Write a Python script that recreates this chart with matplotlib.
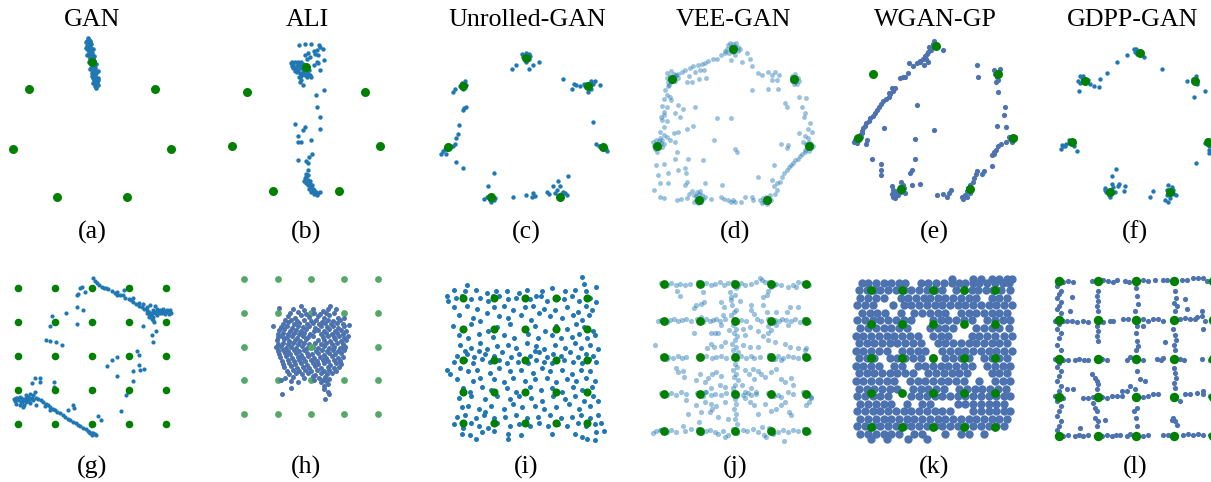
import matplotlib
matplotlib.use("Agg")
import matplotlib.pyplot as plt
import numpy as np

# ---------------- data ----------------
titles = ["GAN", "ALI", "Unrolled-GAN", "VEE-GAN", "WGAN-GP", "GDPP-GAN"]
labels_top = ["(a)", "(b)", "(c)", "(d)", "(e)", "(f)"]
labels_bot = ["(g)", "(h)", "(i)", "(j)", "(k)", "(l)"]

# ring of 7 distinct modes (unit radius)
ring_x = [0.0, -0.782, -0.975, -0.434, 0.434, 0.975, 0.782]
ring_y = [1.0, 0.623, -0.223, -0.901, -0.901, -0.223, 0.623]
# 5x5 grid of modes
grid_vals = [-2, -1, 0, 1, 2]

a_pts = [(-0.05,1.34),(-0.04,1.31),(-0.06,1.29),(-0.03,1.28),(-0.05,1.25),(-0.02,1.24),(-0.06,1.22),(-0.03,1.20),(-0.01,1.19),(-0.05,1.17),(-0.02,1.15),(0.0,1.13),(-0.04,1.12),(-0.01,1.10),(-0.03,1.07),(0.01,1.06),(-0.02,1.04),(0.02,1.02),(-0.01,1.00),(0.03,0.98),(0.0,0.96),(0.02,0.94),(-0.01,0.92),(0.04,0.91),(0.01,0.89),(0.03,0.87),(0.0,0.85),(0.05,0.84),(0.02,0.82),(0.04,0.80),(0.01,0.78),(0.05,0.76),(0.03,0.74),(0.06,0.72),(0.02,0.71),(0.05,0.69),(0.04,0.66),(0.05,0.63),(-0.03,1.3),(-0.01,1.16),(0.0,1.04),(0.02,0.88),(0.03,0.79),(-0.04,1.27),(-0.02,1.09),
(-0.08,1.28),(-0.07,1.2),(-0.06,1.1),(-0.04,1.0),(-0.02,0.9),(0.0,0.8),(0.01,0.7),(0.07,0.78),(0.07,0.88),(0.05,0.97),(0.03,1.08),(0.01,1.18),(-0.01,1.25),(0.07,0.68),(0.08,0.74)]

b_pts = [(-0.09,1.34),(-0.01,1.35),(0.07,1.36),(0.17,1.34),(0.19,1.31),(0.22,1.27),(0.15,1.26),(0.10,1.24),(0.03,1.21),(-0.01,1.18),(0.12,1.20),(0.16,1.18),(0.05,1.16),(0.01,1.12),(0.24,1.11),(0.14,1.08),(0.10,1.03),(0.16,1.06),(0.19,0.95),(0.07,0.84),(-0.08,0.77),(-0.04,0.72),
(-0.19,1.08),(-0.14,1.07),(-0.10,1.08),(-0.17,1.03),(-0.12,1.02),(-0.08,1.03),(-0.04,1.05),(-0.14,0.98),(-0.10,0.96),(-0.06,0.98),(-0.01,0.99),(-0.17,0.99),(-0.12,0.93),(-0.08,0.91),(-0.04,0.93),(0.01,0.94),(0.03,0.89),(-0.01,0.88),(-0.06,0.86),(0.05,0.88),(-0.09,0.85),(0.01,0.84),(-0.20,1.06),(-0.06,1.08),(-0.03,0.95),(0.04,0.95),(-0.15,0.94),(-0.07,0.80),(-0.18,1.02),(-0.11,1.05),(-0.13,0.95),(-0.09,1.01),(-0.04,0.89),(0.0,0.90),
(0.24,0.65),(0.13,0.57),(0.14,0.38),(0.18,0.23),(0.18,0.04),(-0.15,0.12),(-0.01,0.08),(-0.04,0.03),(-0.10,-0.06),(0.07,-0.12),(-0.10,-0.15),(-0.07,-0.16),(0.08,-0.34),(0.04,-0.39),(0.0,-0.44),(-0.10,-0.43),(0.03,-0.48),
(0.02,-0.58),(0.0,-0.64),(0.03,-0.66),(-0.01,-0.71),(0.02,-0.74),(0.05,-0.76),(0.0,-0.78),(0.03,-0.82),(0.07,-0.84),(0.04,-0.87),(0.10,-0.89),(0.07,-0.92),(0.12,-0.93),(0.14,-0.97),(0.16,-0.94),(0.11,-0.96),(0.09,-0.88),(0.0,-0.69),(-0.03,-0.76),(0.05,-0.80),(0.13,-0.92),(0.18,-0.93),(0.08,-0.82)]

c_pts = [(-0.04,1.06),(0.01,1.07),(0.05,1.06),(0.06,1.03),(-0.03,1.02),(0.04,0.98),(0.01,0.95),(-0.17,0.85),(-0.12,0.91),(0.05,0.85),(0.09,0.91),(0.17,0.94),
(-0.80,0.66),(-0.76,0.68),(-0.75,0.63),(-0.79,0.58),(-0.82,0.62),(-0.89,0.58),(-0.91,0.54),(-0.77,0.31),(-0.75,0.33),(-0.79,0.29),
(0.47,0.71),(0.59,0.58),(0.61,0.64),(0.64,0.63),(0.68,0.62),(0.73,0.64),(0.77,0.65),(0.83,0.68),(0.85,0.65),(0.88,0.69),(0.94,0.63),(0.82,0.58),(0.79,0.54),(0.75,0.62),
(0.85,0.13),(0.89,-0.18),(0.92,-0.20),(0.94,-0.21),(0.98,-0.24),(1.01,-0.25),(1.03,-0.27),(0.96,-0.21),
(-0.84,0.08),(-0.85,-0.04),(-0.87,-0.09),(-0.89,-0.18),(-0.91,-0.21),(-0.95,-0.21),(-0.99,-0.24),(-1.01,-0.25),(-1.04,-0.28),(-1.06,-0.31),(-1.0,-0.32),(-0.87,-0.42),(-0.79,-0.51),(-0.97,-0.19),
(-0.40,-0.57),(-0.47,-0.75),(-0.52,-0.93),(-0.49,-0.91),(-0.45,-0.95),(-0.43,-0.97),(-0.40,-0.94),(-0.45,-0.89),(-0.38,-0.92),
(-0.16,-0.91),(0.01,-0.88),(0.09,-0.85),(0.12,-0.89),(0.08,-0.91),(0.27,-0.83),(0.29,-0.86),(0.35,-0.76),(0.41,-0.69),(0.43,-0.76),(0.39,-0.81),(0.53,-0.61),(0.37,-0.85),(0.45,-0.86),(0.50,-0.85),(0.52,-0.88),(0.43,-0.92),(0.47,-0.83)]

d_pts = [(-0.07,1.05),(-0.04,1.08),(0.0,1.06),(0.04,1.07),(0.07,1.03),(-0.08,1.0),(-0.03,0.99),(0.02,1.01),(0.06,0.98),(-0.05,0.95),(0.0,0.96),(0.09,1.0),(-0.1,0.98),(0.03,1.04),(-0.02,1.03),
(-0.10,0.95),(-0.15,0.92),(-0.21,0.88),(-0.26,0.87),(-0.32,0.85),(-0.36,0.83),(-0.40,0.81),(-0.45,0.80),(-0.51,0.78),(-0.55,0.76),(-0.61,0.73),(-0.66,0.71),(-0.70,0.69),(-0.74,0.66),
(-0.49,0.71),(-0.42,0.73),(-0.37,0.74),(-0.34,0.64),(-0.43,0.62),(-0.53,0.59),(-0.57,0.66),(-0.59,0.59),(-0.03,0.86),(0.03,0.92),(0.11,0.84),(0.18,0.95),(0.22,0.88),(0.24,0.78),(0.32,0.70),(0.37,0.67),(0.45,0.71),(0.50,0.67),(0.54,0.71),(0.59,0.67),(0.56,0.61),(0.50,0.61),(0.45,0.50),(0.58,0.50),(0.24,0.49),
(-0.84,0.7),(-0.8,0.72),(-0.76,0.69),(-0.85,0.64),(-0.81,0.66),(-0.77,0.64),(-0.73,0.67),(-0.83,0.59),(-0.79,0.58),(-0.75,0.6),(-0.82,0.55),(-0.71,0.63),
(-0.83,0.53),(-0.87,0.48),(-0.85,0.42),(-0.81,0.40),(-0.88,0.37),(-0.79,0.36),(-0.91,0.28),(-0.84,0.27),(-0.89,0.21),(-0.75,0.20),(-0.88,0.17),(-0.92,0.14),(-0.91,0.11),(-0.84,0.09),(-0.88,0.02),(-0.94,-0.04),(-0.89,-0.08),(-0.85,-0.11),(-0.81,-0.14),(-0.76,-0.06),(-0.91,-0.14),(-0.70,0.30),(-0.64,0.25),(-0.68,0.15),(-0.59,0.0),(-0.51,0.03),(-0.49,0.27),(-0.74,-0.17),(-0.70,-0.04),
(-1.02,-0.17),(-0.99,-0.15),(-0.95,-0.16),(-1.01,-0.22),(-0.96,-0.2),(-0.92,-0.18),(-1.0,-0.26),(-0.95,-0.25),(-0.91,-0.23),(-0.97,-0.29),(-0.88,-0.2),(-0.93,-0.12),
(-0.99,-0.46),(-0.88,-0.45),(-0.96,-0.58),(-0.83,-0.56),(-0.94,-0.68),(-0.83,-0.69),(-1.01,-0.77),(-0.72,-0.29),(-0.74,-0.38),(-0.70,-0.52),(-0.62,-0.50),(-0.58,-0.38),(-0.60,-0.56),(-0.59,-0.67),(-0.38,-0.39),(-0.62,-0.71),(-0.94,-0.86),(-0.89,-0.87),(-0.72,-0.90),(-0.67,-0.89),(-0.59,-0.87),(-0.57,-0.82),(-0.53,-0.79),(-0.50,-0.84),
(-0.48,-0.85),(-0.44,-0.82),(-0.4,-0.84),(-0.47,-0.9),(-0.43,-0.88),(-0.38,-0.89),(-0.45,-0.94),(-0.41,-0.93),(-0.36,-0.86),(-0.5,-0.92),(-0.42,-0.78),(-0.46,-0.8),
(-0.36,-0.69),(-0.28,-0.89),(-0.14,-0.71),(-0.15,-0.86),(-0.11,-0.89),(-0.06,-0.90),(-0.03,-0.92),(0.0,-0.90),(0.03,-0.92),(0.10,-0.92),(0.15,-0.86),(0.24,-0.86),(0.26,-0.90),(0.32,-0.61),(0.35,-0.90),(0.52,-0.46),(0.50,-0.65),(0.52,-0.72),(0.57,-0.69),(0.60,-0.67),(0.63,-0.61),(0.66,-0.56),(0.69,-0.52),(0.72,-0.48),(0.74,-0.46),(0.77,-0.44),(0.80,-0.40),(0.83,-0.38),(0.86,-0.35),(0.88,-0.32),(0.92,-0.29),(0.56,-0.77),(0.54,-0.82),
(0.38,-0.88),(0.42,-0.86),(0.46,-0.87),(0.4,-0.92),(0.45,-0.92),(0.49,-0.9),(0.37,-0.94),(0.43,-0.95),(0.48,-0.84),
(0.84,0.40),(0.94,0.38),(0.88,0.27),(0.92,0.19),(0.91,0.15),(0.99,0.07),(0.96,0.0),(1.01,-0.05),(0.62,-0.19),(0.70,-0.21),(0.84,-0.06),(0.90,-0.17),(0.92,-0.10),(0.96,-0.12),
(0.93,-0.19),(0.97,-0.17),(1.0,-0.2),(0.95,-0.24),(1.0,-0.25),(1.03,-0.22),(0.92,-0.27),(0.97,-0.28),
(0.76,0.66),(0.8,0.68),(0.83,0.64),(0.75,0.6),(0.8,0.59),(0.84,0.6),(0.78,0.56),(0.82,0.56),
(-0.21,0.13),(-0.02,0.13),(-0.25,-0.14),(0.03,-0.26),(0.05,-0.29),(0.67,0.32),(0.69,0.27),(0.69,-0.25)]

e_pts = [(-1.01,-0.25),(-0.99,-0.29),(-1.02,-0.28),(-0.95,-0.19),(-0.93,-0.14),(-0.91,-0.10),(-0.89,-0.07),(-0.87,-0.03),(-0.84,0.0),(-0.82,0.04),(-0.79,0.07),(-0.76,0.10),(-0.74,0.14),(-0.71,0.18),(-0.68,0.23),(-0.66,0.26),(-0.62,0.29),(-0.59,0.32),(-0.57,0.36),(-0.54,0.40),(-0.51,0.44),(-0.45,0.57),(-0.41,0.58),(-0.38,0.59),(-0.34,0.64),(-0.28,0.73),(-0.23,0.77),(-0.19,0.80),(-0.16,0.82),(-0.13,0.86),(-0.11,0.89),(-0.09,0.92),(-0.07,0.95),(-0.05,0.99),(-0.03,1.03),(-0.02,1.06),(-0.15,0.75),(-0.10,0.79),(-0.33,0.77),(0.10,0.95),(-0.96,-0.24),(-1.0,-0.23),(-0.87,-0.31),(-0.86,-0.25),(-0.55,0.44),(-0.59,0.37),(-0.97,-0.21),(-0.98,-0.25),(-0.94,-0.22),(-0.92,-0.16),(-0.08,0.98),(-0.06,0.95),(-0.12,0.82),(-0.20,0.78),
(0.52,0.75),(0.54,0.58),(0.74,0.68),(0.75,0.63),(0.77,0.59),(0.79,0.55),(0.76,0.52),(0.78,0.39),(0.87,0.19),(0.86,0.08),(0.77,-0.07),(0.89,-0.08),(0.81,0.69),
(0.92,-0.22),(0.94,-0.24),(0.98,-0.25),(1.0,-0.21),(0.96,-0.28),(0.89,-0.28),(0.83,-0.31),(0.79,-0.33),(0.76,-0.39),(0.73,-0.41),(0.71,-0.45),(0.73,-0.44),(0.71,-0.60),(0.61,-0.67),(0.59,-0.71),(0.52,-0.67),(0.51,-0.71),(0.48,-0.76),(0.47,-0.81),(0.43,-0.85),(0.41,-0.90),(0.39,-0.94),(0.37,-0.99),(0.35,-1.04),(0.39,-1.01),(0.33,-1.01),(0.43,-0.96),(0.20,-0.92),(0.17,-0.96),(0.15,-1.01),(0.09,-0.97),(0.02,-0.99),(-0.26,-0.51),(-0.30,-0.65),(-0.32,-0.70),(-0.29,-0.85),(-0.19,-0.84),
(-0.55,-0.87),(-0.53,-0.92),(-0.51,-0.96),(-0.54,-1.01),(-0.49,-0.94),(-0.47,-0.99),(-0.43,-0.95),(-0.40,-0.90),(-0.43,-0.81),(-0.41,-0.85),(-0.51,-1.03),(-0.55,-0.98),(-0.45,-0.88),(-0.38,-0.96),
(-0.80,-0.51),(-0.68,-0.57),(-0.68,-0.65),(-0.68,-0.72),(-0.23,0.21),(-0.65,-0.10),(-0.02,-0.12),(-0.26,-0.24)]

f_pts = [(-0.09,1.05),(-0.06,1.06),(-0.02,1.03),(0.02,1.02),(-0.07,1.01),(-0.04,0.99),(0.05,0.94),(-0.18,0.97),(-0.33,0.87),(-0.47,0.73),(0.32,0.78),
(-0.86,0.68),(-0.82,0.69),(-0.88,0.61),(-0.86,0.59),(-0.82,0.64),(-0.74,0.63),(-0.71,0.58),(-0.66,0.55),(-0.59,0.53),(-0.57,0.64),(-0.87,0.48),(-0.83,0.66),
(0.67,0.61),(0.80,0.69),(0.81,0.58),(0.75,0.64),(0.77,0.40),(0.93,0.48),
(0.93,-0.23),(0.95,-0.19),(0.98,-0.28),(0.99,-0.33),(0.98,-0.37),(0.80,-0.50),
(-1.12,-0.26),(-1.13,-0.31),(-1.10,-0.28),(-1.06,-0.25),(-1.02,-0.23),(-1.01,-0.19),(-0.96,-0.21),(-0.95,-0.27),(-0.90,-0.34),(-1.07,-0.27),
(-0.34,-0.59),(-0.40,-0.68),(-0.40,-0.79),(-0.50,-0.85),(-0.49,-0.90),(-0.45,-0.95),(-0.40,-0.92),(-0.38,-0.84),(-0.32,-0.82),(-0.30,-0.80),(-0.23,-0.89),(-0.21,-0.82),(-0.43,-0.97),(-0.50,-0.87),(-0.36,-0.90),
(0.14,-0.97),(0.19,-0.89),(0.36,-1.01),(0.40,-1.04),(0.40,-0.81),(0.45,-0.83),(0.38,-0.95),(0.48,-0.93),(0.51,-0.95),(0.43,-0.99),(0.39,-0.88),(0.47,-0.88)]

g_pts = [(0.03,2.27),(0.07,2.20),(0.12,2.13),(0.19,2.08),(0.25,2.03),(0.32,2.0),(0.37,1.98),(0.43,1.96),(0.52,1.90),(0.61,1.83),(0.68,1.79),(0.75,1.77),(0.82,1.79),(0.88,1.71),(0.98,1.67),(1.04,1.64),(1.11,1.57),(1.18,1.51),(1.25,1.47),(1.34,1.42),(1.40,1.38),(1.47,1.34),(1.54,1.30),(1.61,1.25),(1.67,1.30),(1.74,1.32),(1.82,1.34),(1.88,1.35),(1.94,1.33),(2.01,1.35),(2.09,1.30),(2.12,1.25),(2.06,1.22),(1.97,1.24),(1.88,1.25),(1.74,1.20),(1.65,1.15),(1.61,1.08),(1.54,1.15),(1.47,1.25),(1.49,1.44),(1.56,1.49),(1.70,1.47),(1.74,1.38),(1.38,1.51),(1.27,1.54),(1.09,1.69),(0.86,1.93),(0.66,1.88),(1.63,1.05),(1.67,0.99),(1.38,0.88),(1.72,0.73),(1.61,0.60),(1.65,0.42),
(1.79,1.30),(1.90,1.30),(1.99,1.30),(1.83,1.25),(1.70,1.25),(1.58,1.20),(1.63,1.35),(1.52,1.22),(2.11,1.35),(1.92,1.38),
(-0.29,2.03),(-0.41,1.79),(-0.20,1.88),(-0.38,1.81),(-0.42,1.42),(-0.26,1.35),(-0.72,1.25),(-1.08,1.17),(-1.13,0.89),(-0.42,0.93),(-1.26,0.47),(-1.15,0.45),(-0.97,0.40),(-0.83,0.32),(0.41,-0.28),(0.52,-0.12),(0.66,-0.02),(0.68,-0.58),(0.77,-1.60),(0.91,-1.14),(0.96,-1.06),(1.11,-0.44),(1.11,-0.72),(1.20,0.15),(1.27,0.03),(1.25,-0.26),(1.29,-0.41),(1.40,-0.38),(-0.33,2.0),
(-2.12,-1.26),(-2.07,-1.22),(-2.00,-1.29),(-1.94,-1.34),(-1.87,-1.26),(-1.80,-1.22),(-1.73,-1.19),(-1.67,-1.26),(-1.60,-1.29),(-1.53,-1.24),(-1.46,-1.26),(-1.40,-1.29),(-1.33,-1.34),(-1.26,-1.39),(-1.19,-1.42),(-1.13,-1.48),(-1.07,-1.55),(-1.01,-1.58),(-0.95,-1.63),(-0.88,-1.68),(-0.80,-1.73),(-0.74,-1.78),(-0.65,-1.83),(-0.59,-1.87),(-0.51,-1.92),(-0.44,-1.97),(-0.38,-2.02),(-0.32,-2.04),(-0.24,-2.10),(-0.17,-2.14),(-0.11,-2.20),(-0.05,-2.24),(0.03,-2.26),(0.10,-2.31),
(-2.05,-1.39),(-1.96,-1.43),(-1.85,-1.42),(-1.78,-1.34),(-1.69,-1.36),(-1.60,-1.14),(-1.55,-1.04),(-1.62,-0.80),(-1.42,-0.63),(-1.55,-0.63),(-1.42,-0.77),(-1.04,-0.75),(-1.04,-0.90),(-1.51,-1.43),(-1.28,-1.45),(-1.15,-1.58),(-0.51,-1.42),(-0.50,-1.53),(-0.65,-1.58),(0.16,-1.75),(0.23,-1.87),(-1.96,-1.19),(-2.10,-1.32),(-1.87,-1.48),
(-1.97,-1.26),(-1.92,-1.22),(-1.83,-1.29),(-1.76,-1.26),(-1.71,-1.22),(-1.64,-1.22),(-1.89,-1.34),(-2.03,-1.24),(-1.73,-1.32),(-1.80,-1.14),(-1.69,-1.12),(0.06,-2.29),(-0.02,-2.25),(-0.08,-2.22),(0.0,-2.3)]

h_pts = [(-0.55,1.12),(-0.2,1.08),(0.05,1.1),(0.35,1.05),(0.5,1.12),
(-0.62,0.98),(-0.4,1.02),(-0.15,0.96),(0.1,1.0),(0.28,0.95),(0.45,0.99),(0.7,1.0),
(-0.7,0.9),(-0.48,0.86),(-0.3,0.92),(-0.05,0.88),(0.2,0.9),(0.38,0.86),(0.55,0.92),(0.8,0.85),
(-0.78,0.78),(-0.6,0.8),(-0.42,0.75),(-0.2,0.79),(0.0,0.76),(0.15,0.8),(0.32,0.74),(0.5,0.79),(0.65,0.76),(0.88,0.8),
(-0.85,0.68),(-0.68,0.72),(-0.5,0.66),(-0.35,0.7),(-0.12,0.66),(0.05,0.7),(0.25,0.67),(0.42,0.71),(0.6,0.66),(0.78,0.7),(0.95,0.66),
(-0.9,0.58),(-0.72,0.6),(-0.58,0.56),(-0.4,0.61),(-0.25,0.57),(-0.05,0.6),(0.12,0.56),(0.3,0.6),(0.48,0.57),(0.66,0.61),(0.82,0.56),(1.0,0.6),
(-0.95,0.48),(-0.8,0.51),(-0.62,0.47),(-0.45,0.5),(-0.3,0.46),(-0.15,0.51),(0.08,0.47),(0.22,0.5),(0.4,0.46),(0.55,0.51),(0.72,0.47),(0.9,0.5),(1.05,0.46),
(-0.98,0.38),(-0.85,0.41),(-0.68,0.37),(-0.52,0.4),(-0.35,0.36),(-0.2,0.41),(-0.02,0.38),(0.3,0.37),(0.45,0.41),(0.62,0.36),(0.78,0.4),(0.95,0.37),
(-1.0,0.28),(-0.88,0.31),(-0.72,0.27),(-0.58,0.3),(-0.42,0.26),(-0.25,0.31),(-0.1,0.27),(0.05,0.3),(0.35,0.28),(0.5,0.31),(0.68,0.27),(0.85,0.3),(1.0,0.26),
(-1.02,0.18),(-0.82,0.21),(-0.65,0.17),(-0.48,0.2),(-0.32,0.16),(-0.15,0.21),(0.2,0.18),(0.4,0.2),(0.58,0.16),(0.72,0.21),(0.9,0.17),(1.05,0.2),
(-0.98,0.08),(-0.85,0.11),(-0.7,0.07),(-0.55,0.1),(-0.38,0.06),(-0.22,0.11),(-0.05,0.07),(0.12,0.1),(0.3,0.06),(0.45,0.11),(0.62,0.07),(0.78,0.1),(0.95,0.06),
(-1.05,-0.02),(-0.9,0.01),(-0.75,-0.03),(-0.6,0.0),(-0.45,-0.04),(-0.28,0.01),(-0.12,-0.03),(0.05,0.0),(0.22,-0.04),(0.38,0.01),(0.55,-0.03),(0.7,0.0),(0.88,-0.04),(1.02,0.0),
(-1.0,-0.12),(-0.85,-0.09),(-0.68,-0.13),(-0.52,-0.1),(-0.35,-0.14),(-0.2,-0.09),(0.15,-0.13),(0.32,-0.1),(0.48,-0.14),(0.65,-0.09),(0.82,-0.13),(0.98,-0.1),
(-0.95,-0.22),(-0.78,-0.19),(-0.62,-0.23),(-0.45,-0.2),(-0.3,-0.24),(-0.12,-0.19),(0.02,-0.23),(0.2,-0.2),(0.38,-0.24),(0.55,-0.19),(0.72,-0.23),(0.9,-0.2),
(-0.92,-0.32),(-0.75,-0.29),(-0.58,-0.33),(-0.4,-0.3),(-0.25,-0.34),(-0.08,-0.29),(0.1,-0.33),(0.28,-0.3),(0.45,-0.34),(0.62,-0.29),(0.8,-0.33),(0.95,-0.3),
(-0.88,-0.42),(-0.7,-0.39),(-0.52,-0.43),(-0.35,-0.4),(-0.18,-0.44),(0.0,-0.39),(0.18,-0.43),(0.35,-0.4),(0.52,-0.44),(0.7,-0.39),(0.88,-0.43),
(-0.85,-0.52),(-0.65,-0.49),(-0.48,-0.53),(-0.3,-0.5),(-0.12,-0.54),(0.05,-0.49),(0.22,-0.53),(0.4,-0.5),(0.58,-0.54),(0.75,-0.49),(0.9,-0.52),
(-0.8,-0.62),(-0.6,-0.59),(-0.42,-0.63),(-0.25,-0.6),(-0.05,-0.64),(0.12,-0.59),(0.3,-0.63),(0.5,-0.6),(0.68,-0.64),(0.85,-0.6),
(-0.72,-0.72),(-0.55,-0.69),(-0.35,-0.73),(-0.18,-0.7),(0.0,-0.74),(0.18,-0.69),(0.38,-0.73),(0.55,-0.7),(0.75,-0.72),
(-0.65,-0.82),(-0.45,-0.79),(-0.28,-0.83),(-0.08,-0.8),(0.12,-0.84),(0.3,-0.79),(0.48,-0.83),(0.62,-0.8),
(-0.78,-0.92),(-0.55,-0.9),(-0.2,-0.93),(0.05,-0.89),(0.25,-0.94),(0.42,-0.9),(0.55,-0.95),(0.35,-0.98),
(-0.6,-1.02),(-0.38,-1.05),(0.08,-1.0),(0.3,-1.05),(0.45,-1.02),(0.5,-1.1),(0.4,-1.18),(0.38,-1.25),
(-0.95,1.15),(0.57,1.2),(-1.13,0.6),(1.15,0.63),(-0.88,-1.4),(0.42,-1.56),(0.52,-1.35),(0.55,-1.42),(-0.61,-1.23),(-0.9,-0.98),(1.1,0.3),(-0.3,1.2),(0.75,1.12),(1.0,0.85)]

i_pts = [(1.82,2.65),(1.9,2.45),(-1.9,2.4),(2.3,2.35),
(-2.3,2.25),(-1.95,2.2),(-1.6,2.25),(-1.25,2.15),(-0.95,2.2),(-0.2,2.15),(0.05,2.25),(0.55,2.2),(0.85,2.3),(1.3,2.2),(1.6,2.25),(1.95,2.2),(-0.6,2.2),
(-2.55,2.05),(-2.5,1.9),(-2.25,2.0),(-2.05,2.05),(-1.75,1.95),(-1.45,2.0),(-1.2,1.9),(-0.85,2.05),(-0.55,1.95),(-0.3,2.0),(0.15,1.95),(0.35,2.05),(0.7,1.9),(1.05,2.0),(1.25,1.95),(1.5,2.05),(1.75,1.9),(2.1,2.0),(2.3,1.85),(-1.05,2.05),(0.5,2.05),
(-2.3,1.7),(-1.9,1.75),(-1.55,1.65),(-1.0,1.7),(-0.7,1.75),(-0.4,1.6),(0.0,1.7),(0.25,1.75),(0.6,1.65),(0.95,1.6),(1.35,1.7),(1.7,1.55),(1.95,1.75),(2.15,1.6),
(-2.15,1.45),(-1.7,1.35),(-1.25,1.5),(-0.85,1.4),(-0.55,1.35),(-0.15,1.45),(0.2,1.3),(0.45,1.5),(0.8,1.4),(1.2,1.35),(1.55,1.45),(1.85,1.3),(2.05,1.45),(-1.45,1.25),
(-2.35,1.1),(-2.0,1.0),(-1.75,1.15),(-1.2,0.95),(-0.9,1.05),(-0.5,1.15),(-0.05,1.0),(0.3,1.1),(0.65,0.95),(1.0,1.1),(1.35,1.0),(1.65,1.15),(1.9,1.05),(2.2,0.95),
(-2.15,0.8),(-1.85,0.7),(-1.5,0.85),(-1.05,0.75),(-0.7,0.8),(-0.35,0.7),(0.1,0.85),(0.4,0.7),(0.85,0.8),(1.15,0.7),(1.5,0.75),(1.75,0.85),(2.0,0.7),(2.25,0.8),
(-2.1,0.5),(-1.75,0.4),(-1.45,0.55),(-1.25,0.35),(-0.9,0.45),(-0.55,0.5),(-0.3,0.4),(0.05,0.55),(0.35,0.45),(0.6,0.35),(0.95,0.5),(1.3,0.4),(1.6,0.55),(1.8,0.4),(2.1,0.5),(2.35,0.35),(-1.95,0.3),
(-2.2,0.15),(-1.9,0.2),(-1.65,0.1),(-1.3,0.2),(-1.0,0.15),(-0.75,0.25),(-0.45,0.1),(-0.2,0.2),(0.15,0.15),(0.45,0.25),(0.7,0.1),(0.9,0.2),(1.15,0.15),(1.45,0.25),(1.7,0.1),(1.95,0.2),(2.2,0.15),(-1.5,0.3),(0.3,0.3),
(-2.3,-0.05),(-1.95,0.0),(-1.7,-0.1),(-1.4,0.05),(-1.15,-0.05),(-0.85,0.0),(-0.6,-0.1),(-0.25,-0.05),(0.1,-0.1),(0.35,0.0),(0.6,-0.05),(0.85,-0.1),(1.25,0.0),(1.55,-0.05),(1.85,-0.1),(2.05,0.05),(2.3,-0.05),
(-2.55,-0.3),(-2.45,-0.45),(-2.1,-0.25),(-1.85,-0.35),(-1.55,-0.3),(-1.15,-0.4),(-0.85,-0.25),(-0.5,-0.35),(-0.15,-0.3),(0.25,-0.4),(0.55,-0.25),(0.8,-0.35),(1.2,-0.3),(1.5,-0.45),(1.8,-0.3),(2.1,-0.35),
(-2.2,-0.6),(-1.7,-0.65),(-1.45,-0.55),(-1.0,-0.6),(-0.7,-0.7),(-0.4,-0.55),(0.0,-0.65),(0.3,-0.6),(0.7,-0.55),(1.0,-0.7),(1.35,-0.6),(1.65,-0.65),(1.95,-0.55),(2.25,-0.65),
(-2.0,-0.9),(-1.8,-1.0),(-1.4,-0.85),(-1.1,-0.95),(-0.6,-0.9),(-0.3,-1.0),(0.15,-0.85),(0.5,-0.95),(0.85,-0.9),(1.2,-1.0),(1.55,-0.85),(1.85,-0.95),(2.15,-0.85),
(-2.15,-1.2),(-1.75,-1.15),(-1.3,-1.25),(-0.9,-1.15),(-0.5,-1.25),(-0.2,-1.15),(0.2,-1.2),(0.55,-1.3),(0.9,-1.15),(1.3,-1.25),(1.6,-1.15),(1.9,-1.3),(2.2,-1.15),(2.35,-1.3),
(-2.05,-1.5),(-1.85,-1.45),(-1.5,-1.55),(-1.1,-1.45),(-0.7,-1.55),(-0.4,-1.4),(-0.1,-1.5),(0.3,-1.45),(0.6,-1.55),(1.0,-1.5),(1.4,-1.4),(1.75,-1.55),(2.1,-1.45),(-1.3,-1.65),
(-2.2,-1.8),(-1.95,-1.75),(-1.6,-1.85),(-1.35,-1.75),(-1.0,-1.85),(-0.65,-1.8),(-0.3,-1.75),(0.05,-1.85),(0.4,-1.8),(0.8,-1.75),(1.15,-1.85),(1.5,-1.8),(1.8,-1.75),(2.1,-1.85),(2.35,-1.75),
(-2.3,-2.05),(-2.0,-2.15),(-1.75,-2.0),(-1.5,-2.1),(-1.2,-2.15),(-0.9,-2.0),(-0.5,-2.1),(-0.2,-2.05),(0.15,-2.1),(0.45,-2.0),(0.75,-2.1),(1.05,-2.05),(1.35,-2.1),(1.7,-2.0),(1.95,-2.1),(2.25,-2.05),(2.45,-2.0),(-1.0,-2.25),
(-2.05,-2.35),(-1.8,-2.4),(-1.4,-2.3),(-0.55,-2.35),(-0.15,-2.4),(0.85,-2.35),(1.6,-2.35),(1.85,-2.45),(2.3,-2.3),(2.55,-2.25),(-1.6,-2.5),(-0.55,-2.5),(2.0,-2.5),(2.25,-2.55)]

j_pts = [(-1.80,2.03),(-1.66,1.98),(-1.57,2.01),(-1.41,1.98),(-1.29,2.01),(-0.82,2.03),(-0.69,1.98),(-0.58,2.01),(-0.44,2.04),(-0.32,1.98),(-0.21,2.03),(0.17,2.03),(0.28,1.98),(0.45,2.01),(0.59,2.04),(0.69,2.15),(0.75,2.10),(0.83,2.05),(1.16,2.01),(1.30,1.98),(1.48,1.92),(1.62,1.98),(1.72,1.92),(1.77,2.04),
(-1.63,1.80),(-1.57,1.67),(-0.91,1.78),(-0.14,1.78),(-0.11,1.65),(-0.02,1.69),(-0.13,1.55),(0.12,1.53),(0.78,1.65),(0.90,1.71),(0.92,1.80),(1.01,1.92),
(-1.10,1.42),(-1.15,1.33),(-0.98,1.46),(-0.88,1.51),(-0.39,1.51),(-0.32,1.37),(-0.09,1.42),(0.03,1.28),(-0.04,1.24),(-0.13,1.15),(0.43,1.42),(0.43,1.28),(0.53,1.19),(0.78,1.42),(0.90,1.24),(1.16,1.24),(1.53,1.37),(1.77,1.37),(1.46,1.24),
(-2.18,0.98),(-1.85,1.01),(-1.73,1.04),(-1.62,0.98),(-1.50,1.01),(-1.38,1.04),(-1.26,0.98),(-0.82,1.04),(-0.72,0.98),(-0.63,1.01),(-0.54,1.04),(-0.44,0.98),(-0.30,1.04),(0.17,1.01),(0.31,0.98),(0.62,1.04),(0.73,0.98),(1.11,1.01),(1.22,0.98),(1.31,1.04),(1.44,1.01),(1.58,0.98),(1.69,1.04),(1.81,0.96),(1.16,0.89),(1.48,0.87),(-0.35,1.15),(-0.39,0.89),(-0.96,1.10),
(-0.07,0.87),(0.03,0.78),(-0.04,0.67),(0.06,0.58),(-0.02,0.46),(-0.09,0.37),(0.03,0.28),(-0.07,0.19),(0.08,0.15),(-0.02,-0.17),(0.06,-0.26),(-0.07,-0.35),(0.03,-0.45),(-0.04,-0.54),(0.08,-0.63),(-0.02,-0.76),(-0.07,-0.85),(0.06,-0.99),(-0.02,-1.13),(0.03,-1.26),(-0.04,-1.40),(0.03,-1.54),(-0.02,-1.67),(0.06,-1.81),
(-1.15,0.67),(-0.58,0.67),(-0.69,0.65),(-0.49,0.67),(-0.19,0.74),(0.22,0.78),(0.40,0.83),(0.26,0.62),(0.64,0.71),(0.78,0.58),(0.92,0.67),(0.92,0.46),(1.11,0.42),(1.39,0.37),(1.53,0.28),(1.77,0.24),(2.0,0.24),(0.64,0.28),(0.40,0.28),(0.22,0.33),(-0.39,0.31),(-0.60,0.28),(-0.79,0.24),(-0.30,0.42),(-2.27,0.33),(-0.68,0.37),(0.92,0.85),(1.01,0.74),
(-1.90,0.0),(-1.76,-0.02),(-1.62,0.03),(-1.50,-0.02),(-1.38,0.0),(-0.82,0.03),(-0.66,-0.02),(-0.54,0.0),(-0.39,0.03),(-0.25,-0.02),(0.17,0.03),(0.31,-0.02),(0.43,0.03),(0.54,-0.02),(0.69,0.0),(1.20,0.03),(1.34,-0.02),(1.48,0.03),(1.62,0.0),(1.77,-0.02),(1.95,0.19),(1.11,-0.04),(1.30,-0.08),
(-1.66,-0.29),(-1.47,-0.38),(-1.45,-0.54),(-1.62,-0.40),(-1.10,-0.63),(-0.86,-0.67),(-0.77,-0.56),(-0.66,-0.45),(-0.54,-0.40),(-0.39,-0.51),(-0.44,-0.76),(-0.30,-0.81),(0.28,-0.35),(0.38,-0.45),(0.50,-0.31),(0.64,-0.38),(0.73,-0.45),(0.83,-0.54),(1.01,-0.40),(1.16,-0.31),(1.30,-0.58),(1.39,-0.67),(1.58,-0.56),(1.62,-0.76),(0.53,-0.58),(0.45,-0.85),(0.59,-0.95),(-0.68,-0.85),(-0.86,-0.95),(-1.00,-0.45),(0.26,-0.95),(0.19,-0.75),
(-1.80,-0.96),(-1.66,-1.02),(-1.52,-0.95),(-1.38,-1.0),(-0.82,-0.95),(-0.69,-1.02),(-0.58,-0.99),(-0.39,-1.04),(-0.25,-0.96),(0.22,-1.02),(0.36,-0.96),(0.45,-1.04),(0.59,-0.99),(1.20,-1.02),(1.30,-1.08),(1.48,-0.95),(1.62,-1.0),(2.14,-1.08),(2.09,-1.22),(2.0,-1.31),
(-1.38,-1.17),(-1.33,-1.54),(-1.10,-1.31),(-0.86,-1.22),(-0.69,-1.26),(-0.72,-1.49),(-0.66,-1.40),(-0.54,-1.33),(-0.49,-1.63),(-0.30,-1.22),(-0.21,-1.67),(0.28,-1.11),(0.40,-1.22),(0.54,-1.31),(0.64,-1.54),(0.83,-1.26),(1.0,-1.45),(1.16,-1.40),(1.30,-1.31),(1.39,-1.22),(1.50,-1.49),(1.58,-1.58),(-0.96,-1.49),(-1.03,-1.76),
(-2.32,-2.05),(-2.23,-2.02),(-2.13,-1.99),(-1.80,-1.99),(-1.66,-2.04),(-1.47,-1.87),(-1.41,-2.02),(-1.24,-1.96),(-0.82,-2.02),(-0.72,-1.99),(-0.58,-2.04),(-0.49,-2.08),(-0.35,-2.02),(-0.30,-2.17),(-0.21,-2.11),(0.22,-1.99),(0.34,-2.02),(0.50,-1.95),(0.64,-2.04),(0.81,-2.13),(0.87,-2.17),(1.06,-2.08),(1.20,-2.04),(1.34,-1.99),(1.48,-2.04),(1.62,-1.99),(1.77,-2.02),(1.37,-2.29),(0.75,-1.90),
(-2.08,2.03),(-1.93,1.97),(-1.05,2.04),(-0.93,1.96),(-0.06,2.05),(0.07,1.95),(0.02,1.9),(0.95,2.04),(1.08,1.96),(1.92,2.03),(2.07,1.97),
(-2.1,1.02),(-1.92,0.97),(-1.07,1.03),(-0.92,0.96),(-0.05,1.04),(0.06,0.95),(0.93,1.05),(1.08,0.97),(1.93,1.04),(2.08,0.96),
(-2.07,0.03),(-1.92,-0.04),(-1.06,0.04),(-0.93,-0.03),(-0.05,0.05),(0.06,-0.05),(0.94,0.05),(1.07,-0.04),(1.94,0.05),(2.07,-0.03),
(-2.08,-0.97),(-1.93,-1.04),(-1.07,-0.96),(-0.92,-1.05),(-0.06,-0.95),(0.05,-1.06),(0.93,-0.96),(1.08,-1.05),(1.92,-0.95),(2.08,-1.04),(2.12,-1.1),
(-2.09,-1.97),(-1.92,-2.04),(-1.06,-1.96),(-0.93,-2.05),(-0.07,-1.95),(0.06,-2.06),(0.95,-1.94),(1.06,-2.07),(1.94,-1.96),(2.07,-2.04)]

k_row_y = [2.3, 2.2, 1.98, 1.76, 1.54, 1.32, 1.1, 0.88, 0.66, 0.44, 0.22, 0.0, -0.22, -0.44, -0.66, -0.88, -1.1, -1.32, -1.54, -1.76, -1.98, -2.2, -2.35]
k_row_x = [[0.6, 1.3, 1.55, 1.9, 2.15, 2.4, 2.55],
           [-2.3, -2.1, -1.85, -1.6, -1.35, -1.1, -0.9, -0.4, -0.15, 0.1, 0.35, 0.6, 0.85, 1.05, 1.3, 1.5, 1.75, 2.0, 2.25, 2.45],
           [-2.4, -2.15, -1.9, -1.7, -1.45, -1.2, -0.95, -0.7, -0.45, -0.2, 0.05, 0.3, 0.75, 1.0, 1.25, 1.45, 1.7, 1.95, 2.2, 2.5],
           [-2.35, -2.1, -1.85, -1.6, -1.05, -0.8, -0.55, -0.3, -0.1, 0.15, 0.4, 0.65, 0.9, 1.15, 1.4, 1.9, 2.15, 2.4],
           [-2.45, -2.2, -1.95, -1.3, -0.95, -0.7, -0.45, -0.2, 0.05, 0.3, 0.55, 0.8, 1.05, 1.3, 1.55, 1.8, 2.05, 2.3, 2.55],
           [-2.3, -2.05, -1.8, -1.55, -1.05, -0.6, -0.35, -0.1, 0.15, 0.4, 0.9, 1.15, 1.4, 1.65, 1.9, 2.15, 2.4],
           [-2.45, -2.2, -1.95, -1.7, -1.45, -1.2, -0.95, -0.7, 0.0, 0.25, 0.5, 0.75, 1.0, 1.25, 1.75, 2.0, 2.25, 2.5],
           [-2.35, -2.1, -1.85, -1.6, -1.35, -1.1, -0.85, -0.1, 0.15, 0.4, 0.65, 1.4, 1.65, 1.9, 2.15, 2.45],
           [-2.5, -2.25, -2.0, -1.75, -1.5, -1.25, -1.0, -0.75, -0.5, 0.0, 0.25, 0.5, 1.25, 1.5, 1.75, 2.0, 2.3, 2.55],
           [-2.4, -2.15, -1.9, -1.65, -1.4, -1.15, -0.9, -0.65, -0.4, 0.15, 0.4, 0.65, 0.9, 1.15, 1.4, 1.65, 1.9, 2.15, 2.4],
           [-2.5, -2.25, -2.0, -1.75, -1.5, -1.0, -0.75, -0.5, -0.25, 0.3, 0.55, 0.8, 1.05, 1.3, 1.55, 1.8, 2.05, 2.3, 2.55],
           [-2.4, -2.15, -1.9, -1.4, -1.15, -0.9, -0.65, -0.4, 0.0, 0.4, 0.65, 0.9, 1.15, 1.65, 1.9, 2.15, 2.4],
           [-2.5, -2.25, -2.0, -1.75, -1.25, -1.0, -0.5, -0.25, 0.0, 0.25, 0.5, 0.75, 1.0, 1.25, 1.75, 2.0, 2.25, 2.5],
           [-2.4, -2.15, -1.9, -1.65, -1.4, -1.15, -0.9, -0.65, -0.15, 0.1, 0.35, 0.6, 0.85, 1.1, 1.9, 2.15, 2.4],
           [-2.5, -2.25, -2.0, -1.75, -1.5, -1.25, -0.75, -0.5, -0.25, 0.0, 0.25, 0.5, 0.75, 1.0, 1.5, 2.0, 2.25, 2.5],
           [-2.4, -2.15, -1.9, -1.65, -1.4, -1.15, -0.65, -0.4, -0.15, 0.1, 0.35, 0.85, 1.1, 1.35, 1.6, 1.85, 2.1, 2.35],
           [-2.45, -2.2, -1.95, -1.7, -1.45, -0.7, -0.45, -0.2, 0.05, 0.3, 0.55, 0.8, 1.05, 1.3, 1.55, 1.8, 2.05, 2.3, 2.5],
           [-2.35, -2.1, -1.85, -1.6, -1.35, -0.85, -0.35, -0.1, 0.8, 1.05, 1.3, 1.55, 1.8, 2.05, 2.3],
           [-2.45, -2.2, -1.95, -1.7, -1.45, -1.2, -0.95, -0.7, -0.45, -0.2, 0.05, 0.3, 0.55, 1.3, 1.55, 1.8, 2.05, 2.3, 2.5],
           [-2.35, -2.1, -1.85, -1.6, -1.35, -1.1, -0.85, -0.6, -0.35, -0.1, 0.15, 0.4, 0.65, 0.9, 1.15, 1.4, 1.65, 1.9, 2.15, 2.4],
           [-2.45, -2.2, -1.95, -1.7, -1.45, -1.2, -0.95, -0.7, -0.45, -0.2, 0.05, 0.3, 0.55, 0.8, 1.05, 1.3, 1.55, 1.8, 2.05, 2.3],
           [-2.35, -2.1, -1.85, -1.6, -1.35, -1.1, -0.6, -0.35, 0.4, 0.9, 1.15, 1.65],
           [-2.0, -1.5, -0.8, -0.2]]

l_pts = [(-1.89,1.98),(-1.76,2.0),(-1.65,1.98),(-1.15,2.0),(-0.85,2.02),(-0.72,2.0),(-0.59,1.98),(-0.49,2.02),(-0.29,2.0),(-0.17,1.98),(0.19,2.02),(0.32,2.0),(0.49,2.02),(0.71,2.04),(0.80,2.02),(1.19,2.04),(1.32,2.02),(1.49,2.09),(1.62,2.07),(1.75,2.09),(1.84,2.0),
(-2.05,1.87),(-1.96,1.74),(-2.0,1.66),(-2.05,1.57),(-1.96,1.47),(-2.0,1.35),(-2.05,1.27),(-1.96,1.18),(-2.0,0.88),(-2.05,0.75),(-1.96,0.66),(-2.0,0.53),(-2.05,0.36),(-1.96,0.21),(-2.0,-0.11),(-2.05,-0.22),(-1.96,-0.33),(-2.0,-0.46),(-2.05,-0.59),(-1.96,-0.72),(-2.0,-0.84),(-2.05,-1.10),(-1.96,-1.23),(-2.0,-1.36),(-2.05,-1.49),(-1.96,-1.62),(-2.0,-1.75),(-2.05,-1.84),
(-2.11,0.98),(-1.89,0.98),(-1.79,0.97),(-1.67,0.98),(-1.54,0.95),(-1.37,0.97),(-1.24,0.95),(-0.85,0.95),(-0.68,0.98),(-0.59,0.98),(-0.33,1.01),(-0.20,1.01),(0.19,1.01),(0.32,0.98),(0.45,1.01),(0.58,1.01),(0.71,0.98),(1.15,1.03),(1.28,1.05),(1.41,1.01),(1.58,1.07),(1.71,1.09),(1.80,0.97),(1.97,1.01),
(-1.0,1.74),(-1.02,1.61),(-0.98,1.48),(-1.02,1.35),(-1.0,1.22),(-1.02,0.84),(-0.98,0.71),(-1.02,0.58),(-1.0,0.45),(-1.15,-0.41),(-1.07,-0.50),(-1.02,-0.59),(-0.98,-0.67),(-1.02,-0.80),(-1.11,-1.15),(-1.07,-1.28),(-1.02,-1.36),(-1.07,-1.53),(-0.98,-1.62),(-1.02,-1.75),(-0.80,-1.60),(-1.46,-1.79),(-1.67,1.59),(-1.73,1.22),
(-2.11,0.0),(-1.89,-0.03),(-1.76,-0.05),(-1.59,-0.03),(-1.48,0.0),(-1.35,-0.03),(-1.24,-0.05),(-0.89,0.0),(-0.76,-0.03),(-0.24,-0.03),(-0.16,0.03),(0.19,-0.03),(0.54,0.0),(0.64,-0.03),(0.71,0.02),(1.15,0.0),(1.25,-0.03),(1.71,0.0),(1.93,-0.03),
(0.0,1.83),(0.02,1.61),(0.06,1.40),(-0.03,1.22),(0.02,0.84),(0.0,0.66),(0.03,0.45),(0.06,0.32),(0.0,0.21),(0.02,-0.33),(0.10,-0.54),(0.23,-0.57),(-0.03,-0.80),(0.02,-1.28),(0.0,-1.53),(0.03,-1.75),(-0.05,-1.36),
(1.02,1.74),(1.04,1.57),(0.99,1.44),(1.06,1.35),(1.02,1.22),(0.97,0.75),(1.02,0.62),(1.04,0.49),(0.99,0.36),(1.02,0.23),(0.99,-0.24),(1.02,-0.37),(1.04,-0.50),(0.99,-0.63),(1.02,-0.76),(0.97,-1.53),(1.02,-1.62),(0.93,-1.58),(1.06,-1.71),(1.28,1.53),(1.32,1.27),(1.54,1.01),(1.75,0.75),(1.71,1.22),(0.75,0.43),(0.19,0.84),(1.15,-1.10),(1.75,-0.93),
(-2.11,-0.97),(-1.89,-1.02),(-1.80,-0.78),(-1.63,-0.80),(-1.37,-1.02),(-1.24,-1.03),(-1.11,-1.0),(-0.89,-1.0),(-0.76,-1.02),(-0.63,-0.97),(-0.50,-0.97),(-0.37,-0.97),(-0.24,-0.84),(-0.16,-0.72),(-0.37,-0.83),(0.19,-1.0),(0.32,-0.97),(0.45,-0.93),(0.58,-0.91),(1.28,-0.93),(1.41,-0.91),(1.58,-0.89),(1.75,-0.84),(1.93,-0.97),
(-1.89,-2.01),(-1.76,-1.98),(-1.59,-2.01),(-1.48,-1.98),(-1.37,-2.01),(-1.24,-1.97),(-0.89,-2.01),(-0.76,-1.98),(-0.63,-2.01),(-0.52,-1.98),(-0.42,-1.97),(-0.24,-2.01),(-0.16,-1.95),(0.19,-2.01),(0.32,-1.98),(0.71,-1.98),(0.84,-1.97),(1.23,-1.97),(1.36,-1.95),(1.49,-1.98),(1.62,-1.95),(1.75,-1.97),(1.93,-1.97)]

# ---------------- style / layout (pixels) ----------------
W, H, DPI = 1211, 482, 100
C_BLUE = "#1f77b4"
C_SBLUE = "#4c72b0"
C_GREEN = "#008000"
C_LGREEN = "#55a868"
SERIF = ["Liberation Serif", "DejaVu Serif"]
FS = 18.7

fig = plt.figure(figsize=(W / DPI, H / DPI), dpi=DPI)


def make_axes(cx, cy, sx, sy, bw=220, bh=220):
    ax = fig.add_axes([(cx - bw / 2) / W, (H - cy - bh / 2) / H, bw / W, bh / H])
    ax.set_xlim(-bw / 2 / sx, bw / 2 / sx)
    ax.set_ylim(-bh / 2 / sy, bh / 2 / sy)
    ax.axis("off")
    ax.patch.set_alpha(0)
    return ax


def xy(pts):
    arr = np.asarray(pts, dtype=float)
    return arr[:, 0], arr[:, 1]


gx, gy = np.meshgrid(grid_vals, grid_vals)
gx, gy = gx.ravel(), gy.ravel()

k_x = [x for row in k_row_x for x in row]
k_y = [y for y, row in zip(k_row_y, k_row_x) for _ in row]

# top row: (points, color, size, alpha, center x, center y, px per unit x, px per unit y)
top = [
    (xy(a_pts), C_BLUE, 11, 1.0, 92, 133, 81, 71),
    (xy(b_pts), C_BLUE, 10, 1.0, 306, 132, 76, 65),
    (xy(c_pts), C_BLUE, 10, 1.0, 525.5, 131, 79.5, 73),
    (xy(d_pts), C_BLUE, 12, 0.45, 733, 128.5, 78, 79.5),
    (xy(e_pts), C_SBLUE, 14, 1.0, 935.5, 121, 79.5, 75),
    (xy(f_pts), C_BLUE, 10, 1.0, 1140, 126, 70, 73),
]
for (px, py), col, s, al, cx, cy, sx, sy in top:
    ax = make_axes(cx, cy, sx, sy)
    ax.scatter(px, py, s=s, c=col, alpha=al, linewidths=0, clip_on=False, zorder=2)
    ax.scatter(ring_x, ring_y, s=42, c=C_GREEN, linewidths=0, clip_on=False, zorder=3)

bottom = [
    ((xy(g_pts)), C_BLUE, 9, 1.0, C_GREEN, 30, 92.3, 356, 37, 34.2),
    ((xy(h_pts)), C_SBLUE, 13, 1.0, C_LGREEN, 24, 311, 346.5, 33.3, 33.7),
    ((xy(i_pts)), C_BLUE, 13, 1.0, C_GREEN, 34, 525.3, 360.3, 30.9, 31.3),
    ((xy(j_pts)), C_BLUE, 14, 0.45, C_GREEN, 40, 735.3, 357.3, 35.5, 36.7),
    ((k_x, k_y), C_SBLUE, 36, 1.0, C_GREEN, 40, 933, 358.3, 30.9, 34.4),
    ((xy(l_pts)), C_SBLUE, 14, 1.0, C_GREEN, 46, 1136, 358.5, 38.4, 38.7),
]
for (px, py), col, s, al, gcol, gs, cx, cy, sx, sy in bottom:
    ax = make_axes(cx, cy, sx, sy)
    if gcol == C_LGREEN:
        ax.scatter(gx, gy, s=gs, c=gcol, linewidths=0, clip_on=False, zorder=1)
        ax.scatter(px, py, s=s, c=col, alpha=al, linewidths=0, clip_on=False, zorder=2)
        ax.scatter([0], [0], s=gs, c=gcol, linewidths=0, clip_on=False, zorder=3)
    else:
        ax.scatter(px, py, s=s, c=col, alpha=al, linewidths=0, clip_on=False, zorder=2)
        ax.scatter(gx, gy, s=gs, c=gcol, linewidths=0, clip_on=False, zorder=3)

# texts
title_x = [92, 307, 527, 733, 935, 1133]
label_x = [92, 306, 526, 735, 934, 1135]
for t, x in zip(titles, title_x):
    fig.text(x / W, 1 - 26 / H, t, ha="center", va="baseline", fontsize=FS, family=SERIF)
for t, x in zip(labels_top, label_x):
    fig.text(x / W, 1 - 239 / H, t, ha="center", va="baseline", fontsize=FS, family=SERIF)
for t, x in zip(labels_bot, label_x):
    fig.text(x / W, 1 - 474 / H, t, ha="center", va="baseline", fontsize=FS, family=SERIF)

fig.savefig("out.png", dpi=DPI)
